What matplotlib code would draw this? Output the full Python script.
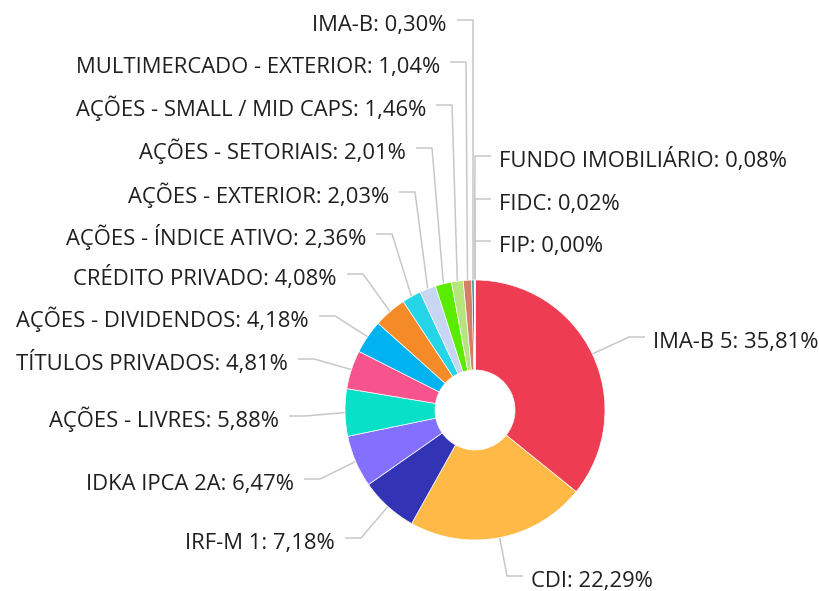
import numpy as np
import matplotlib
matplotlib.use("Agg")
import matplotlib.pyplot as plt

# Data

names = [
    "IMA-B 5", "CDI", "IRF-M 1", "IDKA IPCA 2A", "AÇÕES - LIVRES",
    "TÍTULOS PRIVADOS", "AÇÕES - DIVIDENDOS", "CRÉDITO PRIVADO",
    "AÇÕES - ÍNDICE ATIVO", "AÇÕES - EXTERIOR", "AÇÕES - SETORIAIS",
    "AÇÕES - SMALL / MID CAPS", "MULTIMERCADO - EXTERIOR", "IMA-B",
    "FUNDO IMOBILIÁRIO", "FIDC", "FIP",
]
values = [35.81, 22.29, 7.18, 6.47, 5.88, 4.81, 4.18, 4.08,
          2.36, 2.03, 2.01, 1.46, 1.04, 0.30, 0.08, 0.02, 0.00]
colors = [
    "#EE3D53", "#FFB946", "#3333B5", "#8470FF", "#08E0C8",
    "#F7548E", "#00B2F0", "#F48B26", "#25D4E6", "#C7D6F2",
    "#5BEB00", "#B5E57B", "#D67E63", "#2E8B8B", "#7F7F7F",
    "#999999", "#555555",
]

# Label layout (side, text edge x, text centre y) in pixels from top-left
label_side = ["R", "R", "L", "L", "L", "L", "L", "L", "L", "L", "L", "L", "L", "L", "R", "R", "R"]
label_x = [653, 531, 335, 294, 279, 288, 309, 337, 366, 389, 406, 426, 440, 447, 499, 499, 499]
label_y = [340, 579, 541, 482, 419, 362, 319, 277, 237, 195, 151, 108, 65, 23, 159, 202, 244]

W, H = 820, 591
CX, CY, R, HOLE = 475, 410, 130, 40

plt.rcParams["font.family"] = ["Open Sans", "DejaVu Sans"]

fig = plt.figure(figsize=(W / 100, H / 100), dpi=100)
ax = fig.add_axes([0, 0, 1, 1])

wedges, _ = ax.pie(
    values, colors=colors, startangle=90, counterclock=False,
    radius=R, center=(CX, H - CY),
    wedgeprops=dict(width=R - HOLE, edgecolor="white", linewidth=0.5),
)
ax.set_xlim(0, W)
ax.set_ylim(0, H)
ax.set_aspect("equal")
ax.axis("off")

line_color = "#c8c8c8"
for w, name, v, side, tx, ty in zip(wedges, names, values, label_side, label_x, label_y):
    mid = np.deg2rad((w.theta1 + w.theta2) / 2)
    ex = CX + R * np.cos(mid)
    ey = (H - CY) + R * np.sin(mid)
    yc = H - (ty - 3)
    if side == "L":
        xs = [tx + 10, tx + 26, ex]
        ha = "right"
    else:
        xs = [tx - 8, tx - 24, ex]
        ha = "left"
    ax.plot(xs, [yc, yc, ey], color=line_color, linewidth=1.1, zorder=0,
            solid_capstyle="butt")
    text = f"{name}: {v:.2f}%".replace(".", ",")
    ax.text(tx, H - (ty + 7.8), text, ha=ha, va="baseline",
            fontsize=15.8, color="#1f1f1f")

fig.savefig("out.png", dpi=100)
